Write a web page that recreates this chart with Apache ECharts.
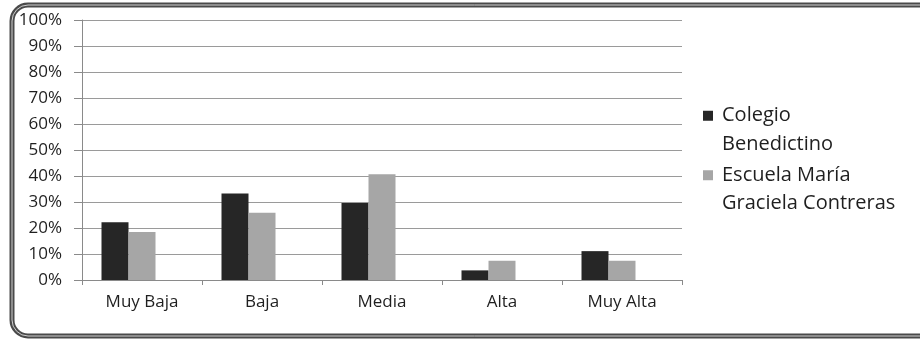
<!DOCTYPE html>
<html>
<head>
<meta charset="utf-8">
<script src="https://cdn.jsdelivr.net/npm/echarts@6/dist/echarts.min.js"></script>
<style>
  html, body { margin: 0; padding: 0; background: #fff; }
  #chart { width: 920px; height: 339px; }
</style>
</head>
<body>
<div id="chart"></div>
<script>
// Niveles de desempeño y porcentaje de estudiantes por establecimiento
const categories = ['Muy Baja', 'Baja', 'Media', 'Alta', 'Muy Alta'];
const colegioBenedictino = [22.2, 33.3, 29.6, 3.7, 11.1];
const escuelaMariaGraciela = [18.5, 25.9, 40.7, 7.4, 7.4];
const yTicks = [0, 10, 20, 30, 40, 50, 60, 70, 80, 90, 100];

const seriesNames = ['Colegio Benedictino', 'Escuela María Graciela Contreras'];
// a blank first line keeps the legend square level with the first text line
const legendLabels = {
  'Colegio Benedictino': ' \nColegio\nBenedictino',
  'Escuela María Graciela Contreras': ' \nEscuela María\nGraciela Contreras'
};

const FONT = '"Open Sans", "Noto Sans", sans-serif';
const chart = echarts.init(document.getElementById('chart'), null, { renderer: 'canvas' });

chart.setOption({
  animation: false,
  backgroundColor: '#ffffff',
  graphic: [
    {
      type: 'rect',
      silent: true,
      shape: { x: 12, y: 5, width: 930, height: 331, r: 16 },
      style: { fill: 'none', stroke: '#4a4a4a', lineWidth: 5 }
    },
    {
      type: 'rect',
      silent: true,
      shape: { x: 12, y: 5, width: 930, height: 331, r: 16 },
      style: { fill: 'none', stroke: '#d0d0d0', lineWidth: 1 }
    }
  ],
  grid: { left: 82, right: 238, top: 20, bottom: 59, containLabel: false },
  legend: {
    data: seriesNames,
    orient: 'vertical',
    left: 703,
    top: 73,
    padding: 0,
    itemGap: -26,
    itemWidth: 10,
    itemHeight: 10,
    icon: 'rect',
    selectedMode: false,
    formatter: name => legendLabels[name],
    textStyle: {
      fontFamily: FONT,
      fontSize: 20,
      lineHeight: 28.5,
      color: '#1f1f1f',
      padding: [0, 0, 0, 4]
    }
  },
  xAxis: {
    type: 'category',
    data: categories,
    axisLine: { lineStyle: { color: '#8a8a8a', width: 1 } },
    axisTick: { show: true, length: 5, lineStyle: { color: '#8a8a8a' } },
    axisLabel: { fontFamily: FONT, fontSize: 17, color: '#1f1f1f', margin: 14 },
    splitLine: { show: false }
  },
  yAxis: {
    type: 'value',
    min: 0,
    max: 100,
    interval: 10,
    axisLine: { show: true, lineStyle: { color: '#8a8a8a', width: 1 } },
    axisTick: { show: true, length: 8, lineStyle: { color: '#8a8a8a' } },
    axisLabel: {
      fontFamily: FONT,
      fontSize: 17,
      color: '#1f1f1f',
      margin: 20,
      formatter: v => (yTicks.includes(v) ? v + '%' : '')
    },
    splitLine: { show: true, lineStyle: { color: '#9a9a9a', width: 1 } }
  },
  series: [
    {
      name: seriesNames[0],
      type: 'bar',
      data: colegioBenedictino,
      barWidth: 27,
      barGap: '0%',
      itemStyle: { color: '#262626' }
    },
    {
      name: seriesNames[1],
      type: 'bar',
      data: escuelaMariaGraciela,
      barWidth: 27,
      barGap: '0%',
      itemStyle: { color: '#a6a6a6' }
    },
    {
      // empty third slot in each group keeps the two bars left of centre
      name: 'vacío',
      type: 'bar',
      data: categories.map(() => null),
      barWidth: 27,
      barGap: '0%',
      silent: true
    }
  ]
});
</script>
</body>
</html>
